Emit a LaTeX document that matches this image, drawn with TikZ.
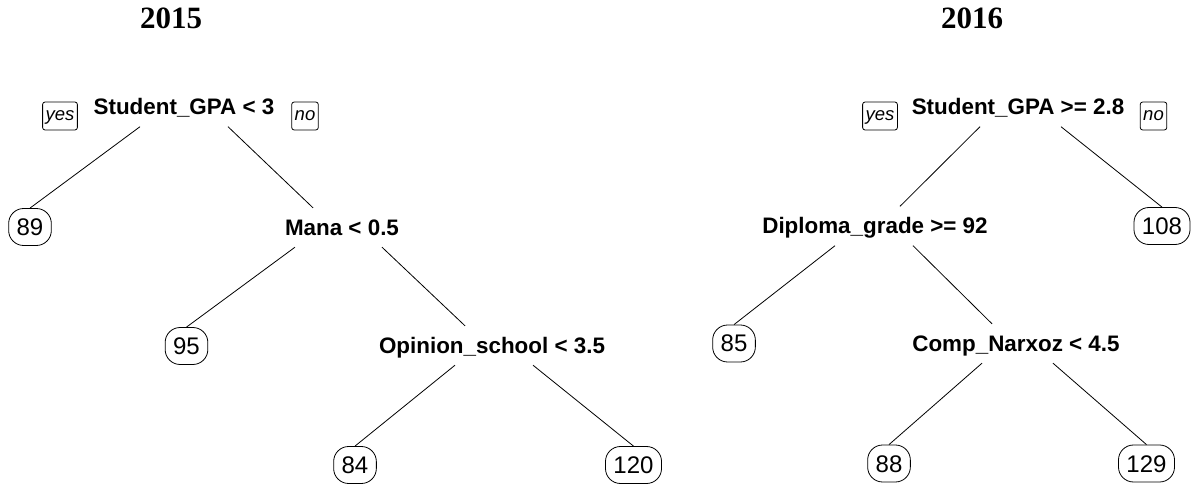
\documentclass[tikz,border=0pt]{standalone}
\usepackage{fontspec}
\setmainfont{Liberation Serif}
\newfontfamily\arial{Liberation Sans}
\usetikzlibrary{calc}
\tikzset{
  split/.style={font=\arial\bfseries\fontsize{22.4}{24}\selectfont, text height=16pt, text depth=0pt, inner xsep=2pt, inner ysep=11.5pt},
  leaf/.style={draw, line width=0.8pt, rounded corners=15pt, font=\arial\fontsize{24}{26}\selectfont, text height=17pt, text depth=0pt, inner xsep=8pt, minimum height=37pt},
  tag/.style={draw, line width=0.8pt, rounded corners=2.5pt, font=\arial\itshape\fontsize{18.5}{20}\selectfont, text height=13pt, text depth=4pt, inner xsep=3pt, minimum height=28pt},
  title/.style={font=\bfseries\fontsize{31}{33}\selectfont},
  branch/.style={line width=0.8pt}
}
\begin{document}
\begin{tikzpicture}[x=1pt,y=-1pt]
\useasboundingbox (0,0) rectangle (1192,486);
% titles
\node[title] (t15) at (171,18) {2015};
\node[title] (t16) at (972,18) {2016};
% 2015 tree
\node[split] (r15) at (184,107) {Student\_GPA < 3};
\node[tag] (yes15) at (60,116) {yes};
\node[tag] (no15) at (305,116) {no};
\node[leaf] (n89) at (30,227) {89};
\node[split] (mana) at (342,227.5) {Mana < 0.5};
\node[leaf] (n95) at (186.5,346) {95};
\node[split] (opin) at (492,345.5) {Opinion\_school < 3.5};
\node[leaf] (n84) at (355,465) {84};
\node[leaf] (n120) at (633.5,465) {120};
\draw[branch] ([xshift=-44pt]r15.south) -- (n89.north);
\draw[branch] ([xshift=44pt]r15.south) -- ([xshift=-29pt]mana.north);
\draw[branch] ([xshift=-47pt]mana.south) -- (n95.north);
\draw[branch] ([xshift=40pt]mana.south) -- ([xshift=-27pt]opin.north);
\draw[branch] ([xshift=-37pt]opin.south) -- (n84.north);
\draw[branch] ([xshift=41pt]opin.south) -- (n120.north);
% 2016 tree
\node[split] (r16) at (1018,107) {Student\_GPA >= 2.8};
\node[tag] (yes16) at (880,116) {yes};
\node[tag] (no16) at (1153.5,116) {no};
\node[split] (dipl) at (875,226) {Diploma\_grade >= 92};
\node[leaf] (n108) at (1162,226) {108};
\node[leaf] (n85) at (734,343.5) {85};
\node[split] (comp) at (1016,343.5) {Comp\_Narxoz < 4.5};
\node[leaf] (n88) at (889,463.5) {88};
\node[leaf] (n129) at (1146.5,463.5) {129};
\draw[branch] ([xshift=-38pt]r16.south) -- ([xshift=25pt]dipl.north);
\draw[branch] ([xshift=43pt]r16.south) -- (n108.north);
\draw[branch] ([xshift=-40pt]dipl.south) -- (n85.north);
\draw[branch] ([xshift=38pt]dipl.south) -- ([xshift=-24pt]comp.north);
\draw[branch] ([xshift=-34pt]comp.south) -- (n88.north);
\draw[branch] ([xshift=37pt]comp.south) -- (n129.north);
\end{tikzpicture}
\end{document}
